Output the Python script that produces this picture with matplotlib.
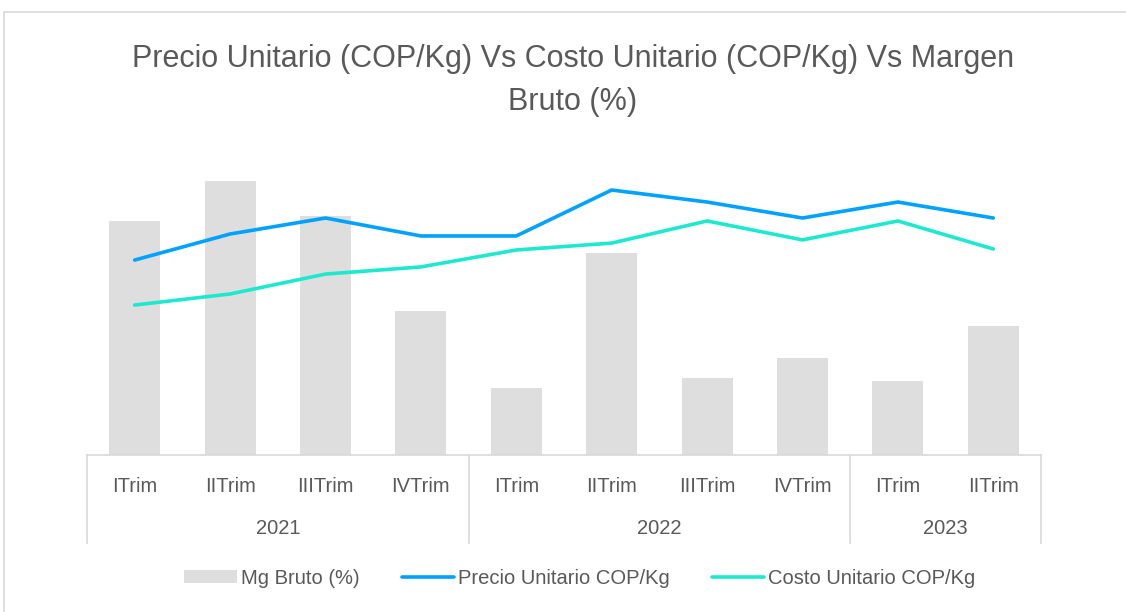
import matplotlib.pyplot as plt
from matplotlib.patches import Rectangle

plt.rcParams['font.family'] = ['Liberation Sans Narrow', 'Liberation Sans', 'DejaVu Sans']

# data
trimestres = ["ITrim", "IITrim", "IIITrim", "IVTrim", "ITrim", "IITrim", "IIITrim", "IVTrim", "ITrim", "IITrim"]
anios = ["2021", "2022", "2023"]
trim_por_anio = [4, 4, 2]
mg_bruto = [0.238, 0.279, 0.243, 0.146, 0.068, 0.205, 0.078, 0.099, 0.075, 0.131]
precio = [7930, 8990, 9640, 8910, 8910, 10780, 10290, 9640, 10290, 9640]
costo = [6100, 6550, 7360, 7650, 8340, 8620, 9520, 8750, 9520, 8380]

gris_txt = "#595959"
gris_lin = "#D9D9D9"

W, H = 1126, 612
fig = plt.figure(figsize=(W / 100, H / 100), dpi=100)

# chart border
fig.patches.append(Rectangle((4 / W, -0.05), 1.2, 1 - 12 / H + 0.05, transform=fig.transFigure,
                             fill=False, edgecolor=gris_lin, linewidth=1.2))

left, right, bottom, top = 87, 1041, 455, 160
ax = fig.add_axes([left / W, 1 - bottom / H, (right - left) / W, (bottom - top) / H])
x = list(range(len(trimestres)))
ax.bar(x, mg_bruto, width=0.535, color="#DEDEDE", label="Mg Bruto (%)", zorder=1)
ax.set_xlim(-0.5, len(x) - 0.5)
ax.set_ylim(0, 0.30)

ax2 = ax.twinx()
ax2.plot(x, precio, color="#00A2FF", linewidth=2.6, label="Precio Unitario COP/Kg",
         solid_capstyle="round", solid_joinstyle="round")
ax2.plot(x, costo, color="#1DE9CF", linewidth=2.6, label="Costo Unitario COP/Kg",
         solid_capstyle="round", solid_joinstyle="round")
ax2.set_ylim(0, 12000)

for a in (ax, ax2):
    a.set_yticks([])
    for s in ("top", "left", "right", "bottom"):
        a.spines[s].set_visible(False)
ax.set_xticks([])

tr = ax.get_xaxis_transform()
# baseline
ax.plot([-0.5, len(x) - 0.5], [0, 0], transform=tr, color=gris_lin, lw=1.2, clip_on=False, zorder=3)

for i, t in enumerate(trimestres):
    ax.text(i, -0.108, t, transform=tr, ha="center", va="center", fontsize=14.5, color=gris_txt)

inicio = -0.5
ax.plot([inicio, inicio], [0, -0.298], transform=tr, color=gris_lin, lw=1.2, clip_on=False)
for anio, n in zip(anios, trim_por_anio):
    fin = inicio + n
    ax.plot([fin, fin], [0, -0.298], transform=tr, color=gris_lin, lw=1.2, clip_on=False)
    ax.text((inicio + fin) / 2, -0.25, anio, transform=tr, ha="center", va="center",
            fontsize=14.5, color=gris_txt)
    inicio = fin

fig.text(573 / W, 1 - 80.5 / H,
         "Precio Unitario (COP/Kg) Vs Costo Unitario (COP/Kg) Vs Margen\nBruto (%)",
         ha="center", va="center", fontsize=22, color=gris_txt, linespacing=1.6)

h1, l1 = ax.get_legend_handles_labels()
h2, l2 = ax2.get_legend_handles_labels()
fig.legend(h1 + h2, l1 + l2, loc="center", bbox_to_anchor=(580 / W, 1 - 578 / H), ncol=3,
           frameon=False, fontsize=14.5, labelcolor=gris_txt, handlelength=2.6,
           handleheight=0.6, handletextpad=0.2, columnspacing=2.1)

fig.savefig("out.png", dpi=100)
